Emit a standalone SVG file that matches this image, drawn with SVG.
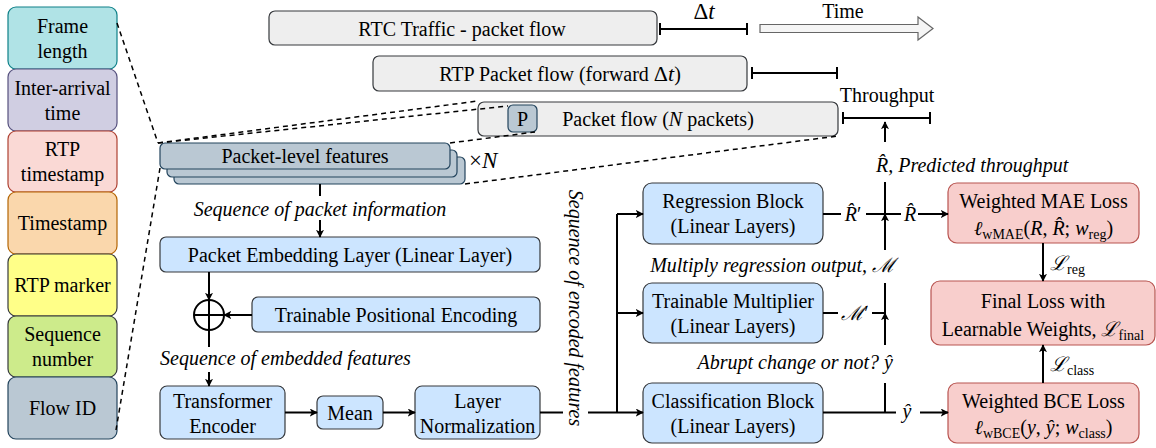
<svg xmlns="http://www.w3.org/2000/svg" width="1156" height="448" viewBox="0 0 1156 448">
<defs>
<marker id="ah" viewBox="0 0 10 10" refX="9" refY="5" markerWidth="8" markerHeight="8" markerUnits="userSpaceOnUse" orient="auto">
<path d="M0,0 L10,5 L0,10 L2.5,5 Z" fill="#000"/>
</marker>
</defs>
<rect width="1156" height="448" fill="#fff"/>
<g id="frame-length"><rect x="8" y="7" width="109" height="62" rx="8" fill="#b0e3e6" stroke="#0e8088" stroke-width="1.2"/><text style="font-family:'Liberation Serif','Times New Roman',serif;font-size:20px" text-anchor="middle" x="62.5" y="33">Frame</text><text style="font-family:'Liberation Serif','Times New Roman',serif;font-size:20px" text-anchor="middle" x="62.5" y="58">length</text></g>
<g id="inter-arrival"><rect x="8" y="69" width="109" height="62" rx="8" fill="#d0cee2" stroke="#56517e" stroke-width="1.2"/><text style="font-family:'Liberation Serif','Times New Roman',serif;font-size:20px" text-anchor="middle" x="62.5" y="95">Inter-arrival</text><text style="font-family:'Liberation Serif','Times New Roman',serif;font-size:20px" text-anchor="middle" x="62.5" y="120">time</text></g>
<g id="rtp-timestamp"><rect x="8" y="131" width="109" height="61" rx="8" fill="#fad9d5" stroke="#ae4132" stroke-width="1.2"/><text style="font-family:'Liberation Serif','Times New Roman',serif;font-size:20px" text-anchor="middle" x="62.5" y="156">RTP</text><text style="font-family:'Liberation Serif','Times New Roman',serif;font-size:20px" text-anchor="middle" x="62.5" y="181">timestamp</text></g>
<g id="timestamp"><rect x="8" y="192" width="109" height="62" rx="8" fill="#fad7ac" stroke="#b46504" stroke-width="1.2"/><text style="font-family:'Liberation Serif','Times New Roman',serif;font-size:20px" text-anchor="middle" x="62.5" y="230">Timestamp</text></g>
<g id="rtp-marker"><rect x="8" y="254" width="109" height="62" rx="8" fill="#ffff88" stroke="#36393d" stroke-width="1.2"/><text style="font-family:'Liberation Serif','Times New Roman',serif;font-size:20px" text-anchor="middle" x="62.5" y="292">RTP marker</text></g>
<g id="sequence-number"><rect x="8" y="316" width="109" height="61" rx="8" fill="#cdeb8b" stroke="#36393d" stroke-width="1.2"/><text style="font-family:'Liberation Serif','Times New Roman',serif;font-size:20px" text-anchor="middle" x="62.5" y="341">Sequence</text><text style="font-family:'Liberation Serif','Times New Roman',serif;font-size:20px" text-anchor="middle" x="62.5" y="366">number</text></g>
<g id="flow-id"><rect x="8" y="377" width="109" height="62" rx="8" fill="#bac8d3" stroke="#23445d" stroke-width="1.2"/><text style="font-family:'Liberation Serif','Times New Roman',serif;font-size:20px" text-anchor="middle" x="62.5" y="415">Flow ID</text></g>
<g id="rtc-traffic"><rect x="269" y="11" width="388" height="34" rx="6" fill="#eeeeee" stroke="#36393d" stroke-width="1.2"/><text style="font-family:'Liberation Serif','Times New Roman',serif;font-size:20px" text-anchor="middle" x="462" y="36">RTC Traffic - packet flow</text></g>
<g id="rtp-flow"><rect x="373" y="56" width="374" height="35" rx="6" fill="#eeeeee" stroke="#36393d" stroke-width="1.2"/><text style="font-family:'Liberation Serif','Times New Roman',serif;font-size:20px" text-anchor="middle" x="560" y="81">RTP Packet flow (forward <tspan style="font-size:22px">Δ</tspan><tspan style="font-size:22px;font-style:italic">t</tspan>)</text></g>
<g id="packet-flow"><rect x="478" y="102" width="360" height="34" rx="6" fill="#eeeeee" stroke="#36393d" stroke-width="1.2"/><text style="font-family:'Liberation Serif','Times New Roman',serif;font-size:20px" text-anchor="middle" x="658" y="126">Packet flow (<tspan style="font-style:italic">N</tspan> packets)</text>
<rect x="508" y="105" width="29" height="27" rx="5" fill="#bac8d3" stroke="#23445d" stroke-width="1.2"/><text style="font-family:'Liberation Serif','Times New Roman',serif;font-size:20px" text-anchor="middle" x="522.5" y="126">P</text></g>
<g id="time-arrow"><polygon points="760,24.5 918,24.5 918,17 933,28.5 918,40 918,32.5 760,32.5" fill="#f5f5f5" stroke="#666" stroke-width="1.2"/><text style="font-family:'Liberation Serif','Times New Roman',serif;font-size:20px" text-anchor="middle" x="843" y="18">Time</text></g>
<g id="dt-label"><text style="font-family:'Liberation Serif','Times New Roman',serif;font-size:23px" text-anchor="middle" x="704" y="19">Δ<tspan style="font-style:italic">t</tspan></text></g>
<g id="throughput-label"><text style="font-family:'Liberation Serif','Times New Roman',serif;font-size:20px" text-anchor="middle" x="887" y="102">Throughput</text></g>
<g id="packet-level-features" fill="#bac8d3" stroke="#23445d" stroke-width="1.2">
<rect x="174" y="157" width="291" height="27" rx="5"/>
<rect x="167" y="150" width="290" height="27" rx="5"/>
<rect x="160" y="143" width="290" height="26" rx="5"/>
<text style="font-family:'Liberation Serif','Times New Roman',serif;font-size:20px" text-anchor="middle" x="305" y="163" fill="#000" stroke="none">Packet-level features</text>
<text style="font-family:'Liberation Serif','Times New Roman',serif;font-size:23px" x="469" y="168" fill="#000" stroke="none">×<tspan style="font-style:italic">N</tspan></text>
</g>
<g id="packet-embedding"><rect x="160" y="237" width="380" height="35" rx="6" fill="#cce5ff" stroke="#36393d" stroke-width="1.2"/><text style="font-family:'Liberation Serif','Times New Roman',serif;font-size:20px" text-anchor="middle" x="350" y="261.5">Packet Embedding Layer (Linear Layer)</text></g>
<g id="positional-encoding"><rect x="252" y="297" width="288" height="35" rx="6" fill="#cce5ff" stroke="#36393d" stroke-width="1.2"/><text style="font-family:'Liberation Serif','Times New Roman',serif;font-size:20px" text-anchor="middle" x="396" y="321.5">Trainable Positional Encoding</text></g>
<g id="add-op"><circle cx="209" cy="315" r="15" fill="none" stroke="#000" stroke-width="2"/><path d="M194,315 H224 M209,300 V330" stroke="#000" stroke-width="2"/></g>
<g id="transformer-encoder"><rect x="160" y="386" width="125" height="53" rx="7" fill="#cce5ff" stroke="#36393d" stroke-width="1.2"/><text style="font-family:'Liberation Serif','Times New Roman',serif;font-size:20px" text-anchor="middle" x="222.5" y="408">Transformer</text><text style="font-family:'Liberation Serif','Times New Roman',serif;font-size:20px" text-anchor="middle" x="222.5" y="433">Encoder</text></g>
<g id="mean"><rect x="317" y="396" width="66" height="33" rx="6" fill="#cce5ff" stroke="#36393d" stroke-width="1.2"/><text style="font-family:'Liberation Serif','Times New Roman',serif;font-size:20px" text-anchor="middle" x="350" y="419.5">Mean</text></g>
<g id="layer-norm"><rect x="415" y="386" width="125" height="53" rx="7" fill="#cce5ff" stroke="#36393d" stroke-width="1.2"/><text style="font-family:'Liberation Serif','Times New Roman',serif;font-size:20px" text-anchor="middle" x="477.5" y="408">Layer</text><text style="font-family:'Liberation Serif','Times New Roman',serif;font-size:20px" text-anchor="middle" x="477.5" y="433">Normalization</text></g>
<g id="regression-block"><rect x="643" y="183" width="180" height="61" rx="9" fill="#cce5ff" stroke="#36393d" stroke-width="1.2"/><text style="font-family:'Liberation Serif','Times New Roman',serif;font-size:20px" text-anchor="middle" x="733" y="208">Regression Block</text><text style="font-family:'Liberation Serif','Times New Roman',serif;font-size:20px" text-anchor="middle" x="733" y="233">(Linear Layers)</text></g>
<g id="trainable-multiplier"><rect x="643" y="283" width="180" height="60" rx="9" fill="#cce5ff" stroke="#36393d" stroke-width="1.2"/><text style="font-family:'Liberation Serif','Times New Roman',serif;font-size:20px" text-anchor="middle" x="733" y="307.5">Trainable Multiplier</text><text style="font-family:'Liberation Serif','Times New Roman',serif;font-size:20px" text-anchor="middle" x="733" y="332.5">(Linear Layers)</text></g>
<g id="classification-block"><rect x="643" y="383" width="180" height="60" rx="9" fill="#cce5ff" stroke="#36393d" stroke-width="1.2"/><text style="font-family:'Liberation Serif','Times New Roman',serif;font-size:20px" text-anchor="middle" x="733" y="407.5">Classification Block</text><text style="font-family:'Liberation Serif','Times New Roman',serif;font-size:20px" text-anchor="middle" x="733" y="432.5">(Linear Layers)</text></g>
<g id="mae-loss"><rect x="948" y="183" width="191" height="60" rx="9" fill="#f8cecc" stroke="#b85450" stroke-width="1.2"/><text style="font-family:'Liberation Serif','Times New Roman',serif;font-size:20px" text-anchor="middle" x="1043.5" y="208">Weighted MAE Loss</text>
<text style="font-family:'Liberation Serif','Times New Roman',serif;font-size:20px" text-anchor="middle" x="1043.5" y="235"><tspan style="font-style:italic">ℓ</tspan><tspan style="font-size:14px" dy="4">wMAE</tspan><tspan dy="-4">(</tspan><tspan style="font-style:italic">R</tspan>, <tspan style="font-style:italic">R̂</tspan>; <tspan style="font-style:italic">w</tspan><tspan style="font-size:14px" dy="4">reg</tspan><tspan dy="-4">)</tspan></text></g>
<g id="final-loss"><rect x="931" y="281" width="224" height="64" rx="9" fill="#f8cecc" stroke="#b85450" stroke-width="1.2"/><text style="font-family:'Liberation Serif','Times New Roman',serif;font-size:20px" text-anchor="middle" x="1043" y="308">Final Loss with</text>
<text style="font-family:'Liberation Serif','Times New Roman',serif;font-size:20px" text-anchor="middle" x="1043" y="336">Learnable Weights, <tspan style="font-style:italic">ℒ</tspan><tspan style="font-size:14px" dy="4">final</tspan></text></g>
<g id="bce-loss"><rect x="948" y="383" width="191" height="60" rx="9" fill="#f8cecc" stroke="#b85450" stroke-width="1.2"/><text style="font-family:'Liberation Serif','Times New Roman',serif;font-size:20px" text-anchor="middle" x="1043.5" y="407.5">Weighted BCE Loss</text>
<text style="font-family:'Liberation Serif','Times New Roman',serif;font-size:20px" text-anchor="middle" x="1043.5" y="434"><tspan style="font-style:italic">ℓ</tspan><tspan style="font-size:14px" dy="4">wBCE</tspan><tspan dy="-4">(</tspan><tspan style="font-style:italic">y</tspan>, <tspan style="font-style:italic">ŷ</tspan>; <tspan style="font-style:italic">w</tspan><tspan style="font-size:14px" dy="4">class</tspan><tspan dy="-4">)</tspan></text></g>
<g id="connectors" fill="none" stroke="#000" stroke-width="2">
<g stroke-width="1.5" stroke-dasharray="5,4">
<path d="M117,23 L158,143"/>
<path d="M158,143 L478,101"/>
<path d="M158,143 L508,106"/>
<path d="M450,143 L535,132"/>
<path d="M465,184 L838,136"/>
<path d="M160,168 L116,430"/>
</g>
<path d="M660,29 H747 M660,23 V35 M747,23 V35"/>
<path d="M752,73 H837 M752,67 V79 M837,67 V79"/>
<path d="M843,118 H930 M843,112 V124 M930,112 V124"/>
<path d="M320,184 V196"/>
<path d="M320,220 V237" marker-end="url(#ah)"/>
<path d="M209,272 V300" marker-end="url(#ah)"/>
<path d="M252,315 H224" marker-end="url(#ah)"/>
<path d="M209,330 V347"/>
<path d="M209,372 V386" marker-end="url(#ah)"/>
<path d="M285,412.5 H317" marker-end="url(#ah)"/>
<path d="M383,412.5 H415" marker-end="url(#ah)"/>
<path d="M540,412.5 H563"/>
<path d="M588,412.5 H643" marker-end="url(#ah)"/>
<path d="M617,412.5 V214"/>
<path d="M617,214 H643" marker-end="url(#ah)"/>
<path d="M617,313 H643" marker-end="url(#ah)"/>
<path d="M823,214 H841"/>
<path d="M866,214 H901"/>
<path d="M918,214 H948" marker-end="url(#ah)"/>
<path d="M823,313 H838"/>
<path d="M872,313 H885"/>
<path d="M823,412.5 H896"/>
<path d="M920,412.5 H948" marker-end="url(#ah)"/>
<path d="M885,412.5 V383"/>
<path d="M885,345 V313" marker-end="url(#ah)"/>
<path d="M885,313 V283"/>
<path d="M885,250 V214" marker-end="url(#ah)"/>
<path d="M885,214 V182"/>
<path d="M885,142 V122" marker-end="url(#ah)"/>
<path d="M1043,243 V281" marker-end="url(#ah)"/>
<path d="M1043,383 V345" marker-end="url(#ah)"/>
</g>
<g id="connector-labels">
<text style="font-family:'Liberation Serif','Times New Roman',serif;font-size:20px;font-style:italic" text-anchor="middle" x="320" y="216">Sequence of packet information</text>
<text style="font-family:'Liberation Serif','Times New Roman',serif;font-size:20px;font-style:italic" x="160" y="365">Sequence of embedded features</text>
<text style="font-family:'Liberation Serif','Times New Roman',serif;font-size:20px;font-style:italic" text-anchor="middle" transform="translate(569,308) rotate(90)">Sequence of encoded features</text>
<text style="font-family:'Liberation Serif','Times New Roman',serif;font-size:20px" text-anchor="middle" x="853" y="221"><tspan style="font-style:italic">R̂</tspan>′</text>
<text style="font-family:'Liberation Serif','Times New Roman',serif;font-size:20px;font-style:italic" text-anchor="middle" x="910" y="221">R̂</text>
<text style="font-family:'Liberation Serif','Times New Roman',serif;font-size:20px" text-anchor="middle" x="855" y="320"><tspan style="font-style:italic">ℳ</tspan>′</text>
<text style="font-family:'Liberation Serif','Times New Roman',serif;font-size:20px;font-style:italic" text-anchor="middle" x="907" y="418">ŷ</text>
<text style="font-family:'Liberation Serif','Times New Roman',serif;font-size:20px;font-style:italic" text-anchor="end" x="893" y="369">Abrupt change or not? ŷ</text>
<text style="font-family:'Liberation Serif','Times New Roman',serif;font-size:20px;font-style:italic" text-anchor="end" x="895" y="272">Multiply regression output, ℳ</text>
<text style="font-family:'Liberation Serif','Times New Roman',serif;font-size:20px;font-style:italic" x="876" y="172">R̂, Predicted throughput</text>
<text style="font-family:'Liberation Serif','Times New Roman',serif;font-size:20px" x="1050" y="270"><tspan style="font-style:italic">ℒ</tspan><tspan style="font-size:14px" dy="4">reg</tspan></text>
<text style="font-family:'Liberation Serif','Times New Roman',serif;font-size:20px" x="1050" y="371"><tspan style="font-style:italic">ℒ</tspan><tspan style="font-size:14px" dy="4">class</tspan></text>
</g>
</svg>
